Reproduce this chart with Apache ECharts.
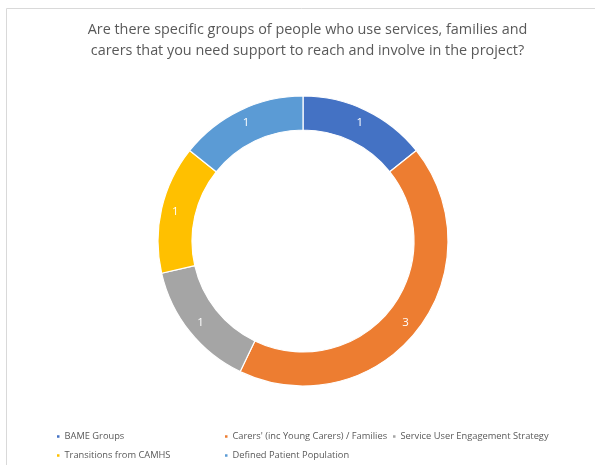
<!DOCTYPE html>
<html><head><meta charset="utf-8">
<script src="https://cdn.jsdelivr.net/npm/echarts@6/dist/echarts.min.js"></script>
<style>html,body{margin:0;padding:0;background:#fff}#c{width:595px;height:465px}</style>
</head><body><div id="c"></div>
<script>
const titleLines = ["Are there specific groups of people who use services, families and", "carers that you need support to reach and involve in the project?"];
const categories = ["BAME Groups", "Carers' (inc Young Carers) / Families", "Service User Engagement Strategy", "Transitions from CAMHS", "Defined Patient Population"];
const values = [1, 3, 1, 1, 1];
const colors = ["#4472C4", "#ED7D31", "#A5A5A5", "#FFC000", "#5B9BD5"];

const legendPos = [
  {left: 55, top: 432},
  {left: 223, top: 432},
  {left: 391, top: 432},
  {left: 55, top: 451},
  {left: 223, top: 451}
];
const chart = echarts.init(document.getElementById('c'), null, {renderer: 'canvas'});
chart.setOption({
  animation: false,
  color: colors,
  title: {
    text: titleLines.join('\n'),
    left: 302.5, top: 14, textAlign: 'center',
    textStyle: {fontFamily: 'Open Sans', fontSize: 14.4, fontWeight: 'normal', color: '#595959', lineHeight: 21}
  },
  graphic: [{
    type: 'rect', shape: {x: 6.5, y: 8.5, width: 620, height: 500},
    style: {fill: 'none', stroke: '#d9d9d9', lineWidth: 1}, silent: true
  }],
  legend: categories.map((c, i) => ({
    data: [c], left: legendPos[i].left, top: legendPos[i].top,
    icon: 'rect', itemWidth: 4.5, itemHeight: 4.5, itemGap: 0,
    textStyle: {fontFamily: 'Open Sans', fontSize: 9.3, color: '#595959', padding: [0, 0, 0, -1]},
    padding: 0, selectedMode: false
  })),
  series: [{
    type: 'pie',
    center: [303, 241],
    radius: [111, 145],
    startAngle: 90,
    clockwise: true,
    avoidLabelOverlap: false,
    itemStyle: {borderColor: '#fff', borderWidth: 1.2},
    label: {show: true, position: 'inside', formatter: '{c}', color: '#fff', fontFamily: 'Open Sans', fontSize: 11.5},
    labelLine: {show: false},
    data: categories.map((c, i) => ({name: c, value: values[i]}))
  }]
});
</script></body></html>
